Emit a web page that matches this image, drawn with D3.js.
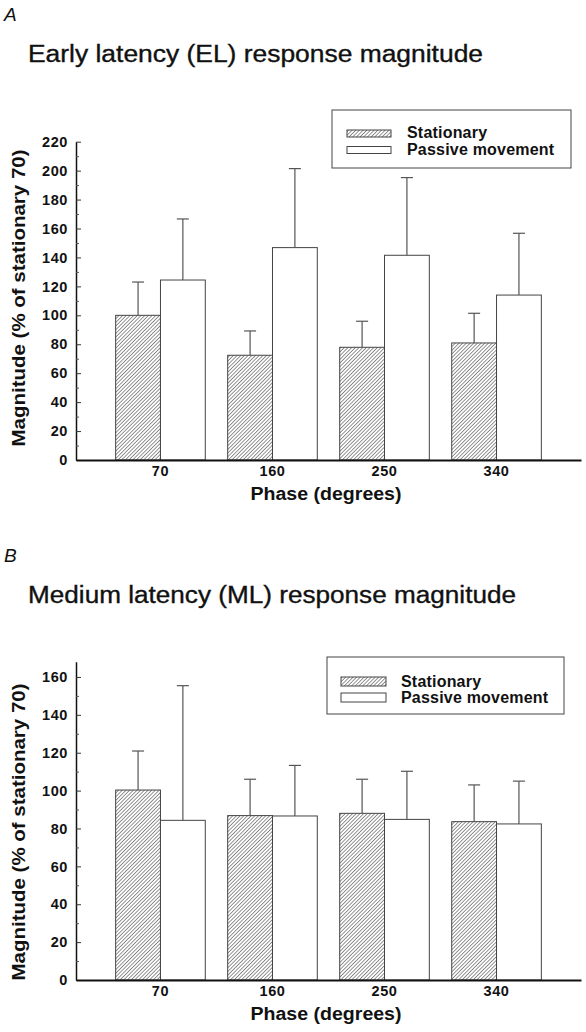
<!DOCTYPE html>
<html>
<head>
<meta charset="utf-8">
<script src="https://cdn.jsdelivr.net/npm/d3@7"></script>
<style>
  html, body { margin: 0; padding: 0; background: #fff; }
  svg { display: block; }
  text { font-family: "Liberation Sans", Arial, Helvetica, sans-serif; fill: #111; }
</style>
</head>
<body>
<svg id="chart" width="586" height="1032"></svg>
<script>
// ---------- DATA ----------
const phases = ["70", "160", "250", "340"];
const seriesNames = ["Stationary", "Passive movement"];

// Panel A: Early latency (EL)
const elStationary = [100, 72.4, 77.9, 80.9];
const elStationaryErr = [23, 16.8, 18, 20.5];
const elPassive = [124.4, 146.8, 141.5, 114];
const elPassiveErr = [42.2, 54.6, 53.7, 42.7];
const elYTicks = [0, 20, 40, 60, 80, 100, 120, 140, 160, 180, 200, 220];
const elYMax = 220;

// Panel B: Medium latency (ML)
const mlStationary = [100.3, 86.8, 88, 83.6];
const mlStationaryErr = [20.6, 19.2, 18, 19.4];
const mlPassive = [84.3, 86.6, 84.8, 82.4];
const mlPassiveErr = [71.1, 26.7, 25.4, 22.6];
const mlYTicks = [0, 20, 40, 60, 80, 100, 120, 140, 160];
const mlYMax = 168;

const panelLetters = ["A", "B"];
const panelTitles = ["Early latency (EL) response magnitude", "Medium latency (ML) response magnitude"];
const yTitle = "Magnitude (% of stationary  70)";
const xTitle = "Phase (degrees)";

// ---------- DRAW ----------
const svg = d3.select("#chart");
const defs = svg.append("defs");
const pat = defs.append("pattern")
  .attr("id", "hatch").attr("patternUnits", "userSpaceOnUse")
  .attr("width", 2.6).attr("height", 2.6)
  .attr("patternTransform", "rotate(45)");
pat.append("rect").attr("width", 2.6).attr("height", 2.6).attr("fill", "#fff");
pat.append("line").attr("x1", 0).attr("y1", 0).attr("x2", 0).attr("y2", 2.6)
  .attr("stroke", "#3a3a3a").attr("stroke-width", 1.1);

function panel(cfg) {
  const g = svg.append("g");
  const x = d3.scaleBand().domain(phases).range([76, 581])
    .paddingInner(0.2).paddingOuter(0.354);
  const y = d3.scaleLinear().domain([0, cfg.yMax]).range([cfg.y0, cfg.yTop]);
  const half = x.bandwidth() / 2;

  // letter and title
  g.append("text").attr("x", 4).attr("y", cfg.letterY)
    .attr("font-size", 19).attr("font-style", "italic").text(cfg.letter);
  g.append("text").attr("x", 28).attr("y", cfg.titleY)
    .attr("font-size", 23).attr("textLength", cfg.titleW).attr("lengthAdjust", "spacingAndGlyphs")
    .attr("stroke", "#111").attr("stroke-width", 0.35).text(cfg.title);

  const series = [
    { vals: cfg.stat, err: cfg.statErr, fill: "url(#hatch)", off: 0 },
    { vals: cfg.pass, err: cfg.passErr, fill: "#fff", off: half }
  ];

  series.forEach(s => {
    const bg = g.append("g");
    bg.selectAll("rect").data(phases).join("rect")
      .attr("x", (d) => x(d) + s.off)
      .attr("y", (d, i) => y(s.vals[i]))
      .attr("width", half)
      .attr("height", (d, i) => cfg.y0 - y(s.vals[i]))
      .attr("fill", s.fill).attr("stroke", "#444").attr("stroke-width", 1);
    // error bars
    bg.selectAll("line.v").data(phases).join("line").attr("class", "v")
      .attr("x1", (d) => x(d) + s.off + half / 2)
      .attr("x2", (d) => x(d) + s.off + half / 2)
      .attr("y1", (d, i) => y(s.vals[i]))
      .attr("y2", (d, i) => y(s.vals[i] + s.err[i]))
      .attr("stroke", "#555").attr("stroke-width", 1.2);
    bg.selectAll("line.c").data(phases).join("line").attr("class", "c")
      .attr("x1", (d) => x(d) + s.off + half / 2 - 6)
      .attr("x2", (d) => x(d) + s.off + half / 2 + 6)
      .attr("y1", (d, i) => y(s.vals[i] + s.err[i]))
      .attr("y2", (d, i) => y(s.vals[i] + s.err[i]))
      .attr("stroke", "#555").attr("stroke-width", 1.2);
  });

  // y axis
  const ya = g.append("g").attr("transform", "translate(76,0)")
    .call(d3.axisLeft(y).tickValues(cfg.yTicks).tickSizeInner(-5).tickSizeOuter(0).tickPadding(8).tickFormat(d3.format("d")));
  ya.select(".domain").attr("stroke", "#111").attr("stroke-width", 1.5);
  ya.selectAll(".tick line").attr("stroke", "#333");
  ya.selectAll(".tick text").attr("font-size", 14.5).attr("font-weight", "bold")
    .attr("letter-spacing", 0.6).attr("fill", "#111")
    .style("font-family", '"Liberation Sans", Arial, sans-serif');
  const minor = d3.range(10, cfg.yMax, 20);
  const ym = g.append("g").attr("transform", "translate(76,0)")
    .call(d3.axisLeft(y).tickValues(minor).tickSize(-3).tickFormat(""));
  ym.select(".domain").remove();
  ym.selectAll(".tick line").attr("stroke", "#555");

  // x axis
  const xa = g.append("g").attr("transform", `translate(0,${cfg.y0})`)
    .call(d3.axisBottom(x).tickSize(0).tickPadding(6));
  xa.select(".domain").attr("stroke", "#111").attr("stroke-width", 1.8);
  xa.selectAll(".tick text").attr("font-size", 14.5).attr("font-weight", "bold")
    .attr("letter-spacing", 0.6).attr("fill", "#111")
    .style("font-family", '"Liberation Sans", Arial, sans-serif');

  // axis titles
  g.append("text").attr("x", 326).attr("y", cfg.y0 + 39.5)
    .attr("text-anchor", "middle").attr("font-size", 18).attr("font-weight", "bold")
    .attr("textLength", 151).attr("lengthAdjust", "spacingAndGlyphs").text(xTitle);
  g.append("text")
    .attr("transform", `translate(25,${cfg.yTitleC}) rotate(-90)`)
    .attr("text-anchor", "middle").attr("font-size", 17.5).attr("font-weight", "bold")
    .attr("textLength", 297).attr("lengthAdjust", "spacingAndGlyphs").text(yTitle);

  // legend
  const L = cfg.legend;
  const lg = g.append("g");
  lg.append("rect").attr("x", L.x).attr("y", L.y).attr("width", L.w).attr("height", L.h)
    .attr("fill", "#fff").attr("stroke", "#444").attr("stroke-width", 1);
  seriesNames.forEach((name, i) => {
    lg.append("rect").attr("x", L.sx).attr("y", L.sy[i]).attr("width", L.sw).attr("height", L.sh)
      .attr("fill", i === 0 ? "url(#hatch)" : "#fff").attr("stroke", "#444").attr("stroke-width", 1);
    lg.append("text").attr("x", L.tx).attr("y", L.ty[i])
      .attr("font-size", 16).attr("font-weight", "bold").attr("letter-spacing", 0.2).text(name);
  });
}

panel({
  letter: panelLetters[0], title: panelTitles[0], letterY: 21, titleY: 61.5, titleW: 455,
  stat: elStationary, statErr: elStationaryErr, pass: elPassive, passErr: elPassiveErr,
  yTicks: elYTicks, yMax: elYMax, y0: 460, yTop: 141.7, yTitleC: 298,
  legend: { x: 332, y: 110, w: 239, h: 58, sx: 347, sw: 44, sh: 7, sy: [130, 146.5], tx: 407, ty: [137.5, 154.5] }
});

panel({
  letter: panelLetters[1], title: panelTitles[1], letterY: 561.7, titleY: 603.3, titleW: 488,
  stat: mlStationary, statErr: mlStationaryErr, pass: mlPassive, passErr: mlPassiveErr,
  yTicks: mlYTicks, yMax: mlYMax, y0: 980, yTop: 980 - 168 * 1.894, yTitleC: 832,
  legend: { x: 327, y: 657, w: 237, h: 57, sx: 341, sw: 45, sh: 9, sy: [677, 693], tx: 401, ty: [687, 703] }
});
</script>
</body>
</html>
